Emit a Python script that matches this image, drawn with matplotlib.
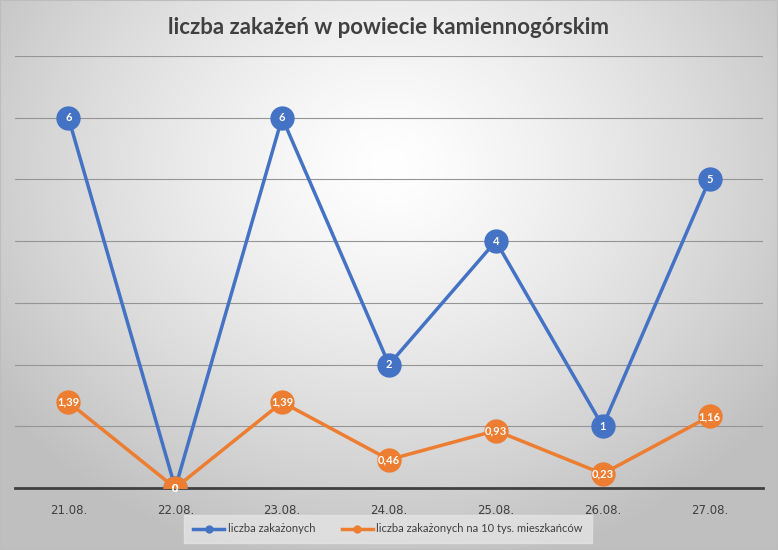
import matplotlib
matplotlib.use("Agg")
import matplotlib.pyplot as plt
import numpy as np

dates = ["21.08.", "22.08.", "23.08.", "24.08.", "25.08.", "26.08.", "27.08."]
cases = [6, 0, 6, 2, 4, 1, 5]
per10k = [1.39, 0, 1.39, 0.46, 0.93, 0.23, 1.16]
series_names = ["liczba zakażonych", "liczba zakażonych na 10 tys. mieszkańców"]
title = "liczba zakażeń w powiecie kamiennogórskim"

W, H = 778, 550
fig = plt.figure(figsize=(W / 100, H / 100), dpi=100)

# radial gradient background
bg = fig.add_axes([0, 0, 1, 1], zorder=-10)
yy, xx = np.mgrid[0:H, 0:W]
r = np.sqrt(((xx - W * 0.5) / (W * 0.62)) ** 2 + ((yy - H * 0.3) / (H * 0.75)) ** 2)
r = np.clip(r, 0, 1)
val = 1.0 - 0.25 * r ** 1.3
img = np.dstack([val, val, val])
bg.imshow(img, aspect="auto", extent=[0, 1, 0, 1])
bg.set_axis_off()
bg.add_patch(plt.Rectangle((0, 0), 1, 1, transform=bg.transAxes, fill=False,
                           edgecolor="#bdbdbd", linewidth=1.5))

ax = fig.add_axes([15 / W, (H - 488) / H, (763 - 15) / W, (488 - 56) / H])
ax.set_facecolor("none")
x = np.arange(len(dates))
ax.set_xlim(-0.5, len(dates) - 0.5)
ax.set_ylim(0, 7)
ax.set_yticks(np.arange(0, 8))
ax.yaxis.grid(True, color="#959595", linewidth=0.8)
ax.set_axisbelow(True)
ax.tick_params(axis="y", left=False, labelleft=False)
ax.tick_params(axis="x", bottom=False, labelsize=8.5, labelcolor="#404040", pad=8)
ax.set_xticks(x)
ax.set_xticklabels(dates)
for s in ["top", "right", "left"]:
    ax.spines[s].set_visible(False)
ax.spines["bottom"].set_color("#404040")
ax.spines["bottom"].set_linewidth(2)
ax.spines["bottom"].set_zorder(1)

blue = "#4472c4"
orange = "#ed7d31"
ax.plot(x, cases, color=blue, linewidth=2.5, marker="o", markersize=16.5,
        markerfacecolor=blue, markeredgecolor=blue, label=series_names[0], zorder=3)
ax.plot(x, per10k, color=orange, linewidth=2.5, marker="o", markersize=16.5,
        markerfacecolor=orange, markeredgecolor=orange, label=series_names[1], zorder=4)

for xi, v in zip(x, cases):
    ax.text(xi, v, f"{v}", color="white", ha="center", va="center", fontsize=8,
            fontweight="bold", zorder=5, family="Lato")
for xi, v in zip(x, per10k):
    lab = "0" if v == 0 else f"{v:.2f}".replace(".", ",")
    ax.text(xi, v, lab, color="white", ha="center", va="center", fontsize=8,
            fontweight="bold", zorder=6, family="Lato")

fig.text(0.5, 1 - 27 / H, title, ha="center", va="center", fontsize=16,
         fontweight="bold", color="#404040", family="Lato")

leg = fig.legend(handles=ax.get_lines(), loc="center", bbox_to_anchor=(388 / W, 1 - 529 / H),
                 ncol=2, frameon=True, handlelength=2.8, markerscale=0.3,
                 columnspacing=2.4, handletextpad=0.3, borderpad=0.5,
                 prop={"family": "Lato", "size": 8})
leg.get_frame().set_facecolor("#e4e4e4")
leg.get_frame().set_edgecolor("#e4e4e4")
leg.get_frame().set_boxstyle("square")
for t in leg.get_texts():
    t.set_color("#404040")

fig.savefig("out.png", dpi=100)
